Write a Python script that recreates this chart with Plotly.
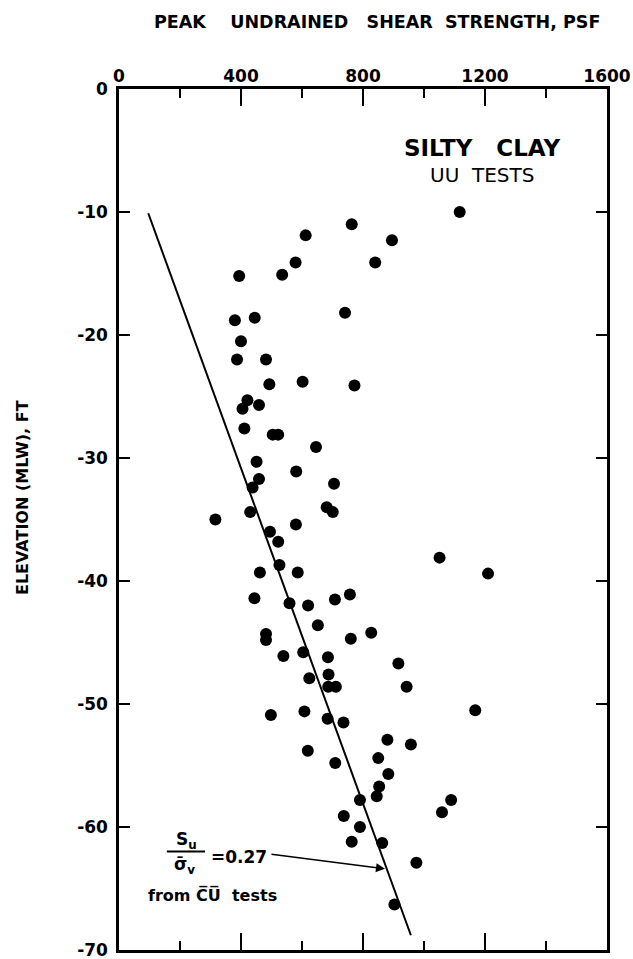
import plotly.graph_objects as go

# Peak undrained shear strength (psf) and elevation (ft, MLW) of UU tests
su_psf = [1117, 763, 612, 895, 579, 840, 535, 394, 741, 380, 445, 400, 387, 482,
          493, 602, 772, 421, 405, 459, 411, 504, 522, 646, 451, 581, 459, 438,
          705, 681, 701, 316, 430, 580, 495, 522, 526, 462, 586, 1051, 1210, 757,
          444, 559, 620, 708, 652, 760, 827, 482, 482, 539, 604, 685, 916, 687,
          624, 686, 711, 943, 498, 608, 684, 736, 1168, 880, 957, 619, 709, 850,
          883, 853, 845, 790, 1089, 1059, 737, 790, 763, 863, 975, 903]
elev_ft = [-10.0, -11.0, -11.9, -12.3, -14.1, -14.1, -15.1, -15.2, -18.2, -18.8,
           -18.6, -20.5, -22.0, -22.0, -24.0, -23.8, -24.1, -25.3, -26.0, -25.7,
           -27.6, -28.1, -28.1, -29.1, -30.3, -31.1, -31.7, -32.4, -32.1, -34.0,
           -34.4, -35.0, -34.4, -35.4, -36.0, -36.8, -38.7, -39.3, -39.3, -38.1,
           -39.4, -41.1, -41.4, -41.8, -42.0, -41.5, -43.6, -44.7, -44.2, -44.3,
           -44.8, -46.1, -45.8, -46.2, -46.7, -47.6, -47.9, -48.6, -48.6, -48.6,
           -50.9, -50.6, -51.2, -51.5, -50.5, -52.9, -53.3, -53.8, -54.8, -54.4,
           -55.7, -56.7, -57.5, -57.8, -57.8, -58.8, -59.1, -60.0, -61.2, -61.3,
           -62.9, -66.3]

# Su / sigma'v = 0.27 line from CU tests
line_su = [96, 957]
line_elev = [-10.1, -68.8]

x_tickvals = [0, 400, 800, 1200, 1600]
x_ticktext = ["0", "400", "800", "1200", "1600"]
y_tickvals = [0, -10, -20, -30, -40, -50, -60, -70]
y_ticktext = ["0", "-10", "-20", "-30", "-40", "-50", "-60", "-70"]

FONT = "DejaVu Sans"
BOLD = dict(family=FONT, weight="bold", color="black")

fig = go.Figure()
fig.add_trace(go.Scatter(x=line_su, y=line_elev, mode="lines",
                         line=dict(color="black", width=2), showlegend=False,
                         hoverinfo="skip"))
fig.add_trace(go.Scatter(x=su_psf, y=elev_ft, mode="markers",
                         marker=dict(color="black", size=12), showlegend=False))

fig.update_layout(
    width=633, height=959,
    margin=dict(l=119, r=26, t=89, b=9),
    paper_bgcolor="white", plot_bgcolor="white",
    font=dict(family=FONT, color="black", size=16),
    xaxis=dict(range=[0, 1600], side="top", tickvals=x_tickvals, ticktext=x_ticktext,
               ticks="inside", ticklen=17, tickwidth=2, tickcolor="black",
               minor=dict(dtick=200, ticks="inside", ticklen=9, tickwidth=2, tickcolor="black"),
               showline=True, linecolor="black", linewidth=2.5, mirror="ticks",
               showgrid=False, zeroline=False, automargin=False,
               ticklabeloverflow="allow",
               tickfont=dict(BOLD, size=17), ticklabelstandoff=-3),
    yaxis=dict(range=[-70, 0], tickvals=y_tickvals, ticktext=y_ticktext,
               ticks="inside", ticklen=11, tickwidth=2, tickcolor="black",
               showline=True, linecolor="black", linewidth=2.5, mirror="ticks",
               showgrid=False, zeroline=False, automargin=False,
               ticklabeloverflow="allow",
               tickfont=dict(BOLD, size=17), ticklabelstandoff=5),
)

fig.add_annotation(text="PEAK    UNDRAINED   SHEAR  STRENGTH, PSF",
                   xref="paper", yref="paper", x=0.529, y=1.0778,
                   xanchor="center", yanchor="middle", showarrow=False,
                   font=dict(BOLD, size=17.5))
fig.add_annotation(text="ELEVATION (MLW), FT", xref="paper", yref="paper",
                   x=-0.199, y=0.526, xanchor="center", yanchor="middle",
                   textangle=-90, showarrow=False, font=dict(BOLD, size=16))
fig.add_annotation(text="SILTY   CLAY", x=1190, y=-4.8, showarrow=False,
                   font=dict(BOLD, size=23))
fig.add_annotation(text="UU  TESTS", x=1190, y=-7.0, showarrow=False,
                   font=dict(family=FONT, size=20))

# fraction Su / sigma_v
fig.add_annotation(text="S<sub>u</sub>", x=222, y=-61.1, showarrow=False,
                   font=dict(BOLD, size=17))
fig.add_shape(type="line", x0=157, x1=282, y0=-62.0, y1=-62.0,
              line=dict(color="black", width=2))
fig.add_annotation(text="σ\u0304<sub>v</sub>", x=216, y=-63.1, showarrow=False,
                   font=dict(BOLD, size=17))
fig.add_annotation(text="=0.27", x=296, y=-62.4, xanchor="left", showarrow=False,
                   font=dict(BOLD, size=17))
fig.add_annotation(text="from C\u0305U\u0305  tests", x=305, y=-65.5, showarrow=False,
                   font=dict(BOLD, size=16))
fig.add_annotation(text="", x=872, y=-63.4, ax=495, ay=-62.2, axref="x", ayref="y",
                   showarrow=True, arrowhead=2, arrowsize=1.2, arrowwidth=1.5,
                   arrowcolor="black")

fig.write_html("out.html", config={"displayModeBar": False},
               post_script="document.body.style.margin='0';document.body.style.overflow='hidden';")
